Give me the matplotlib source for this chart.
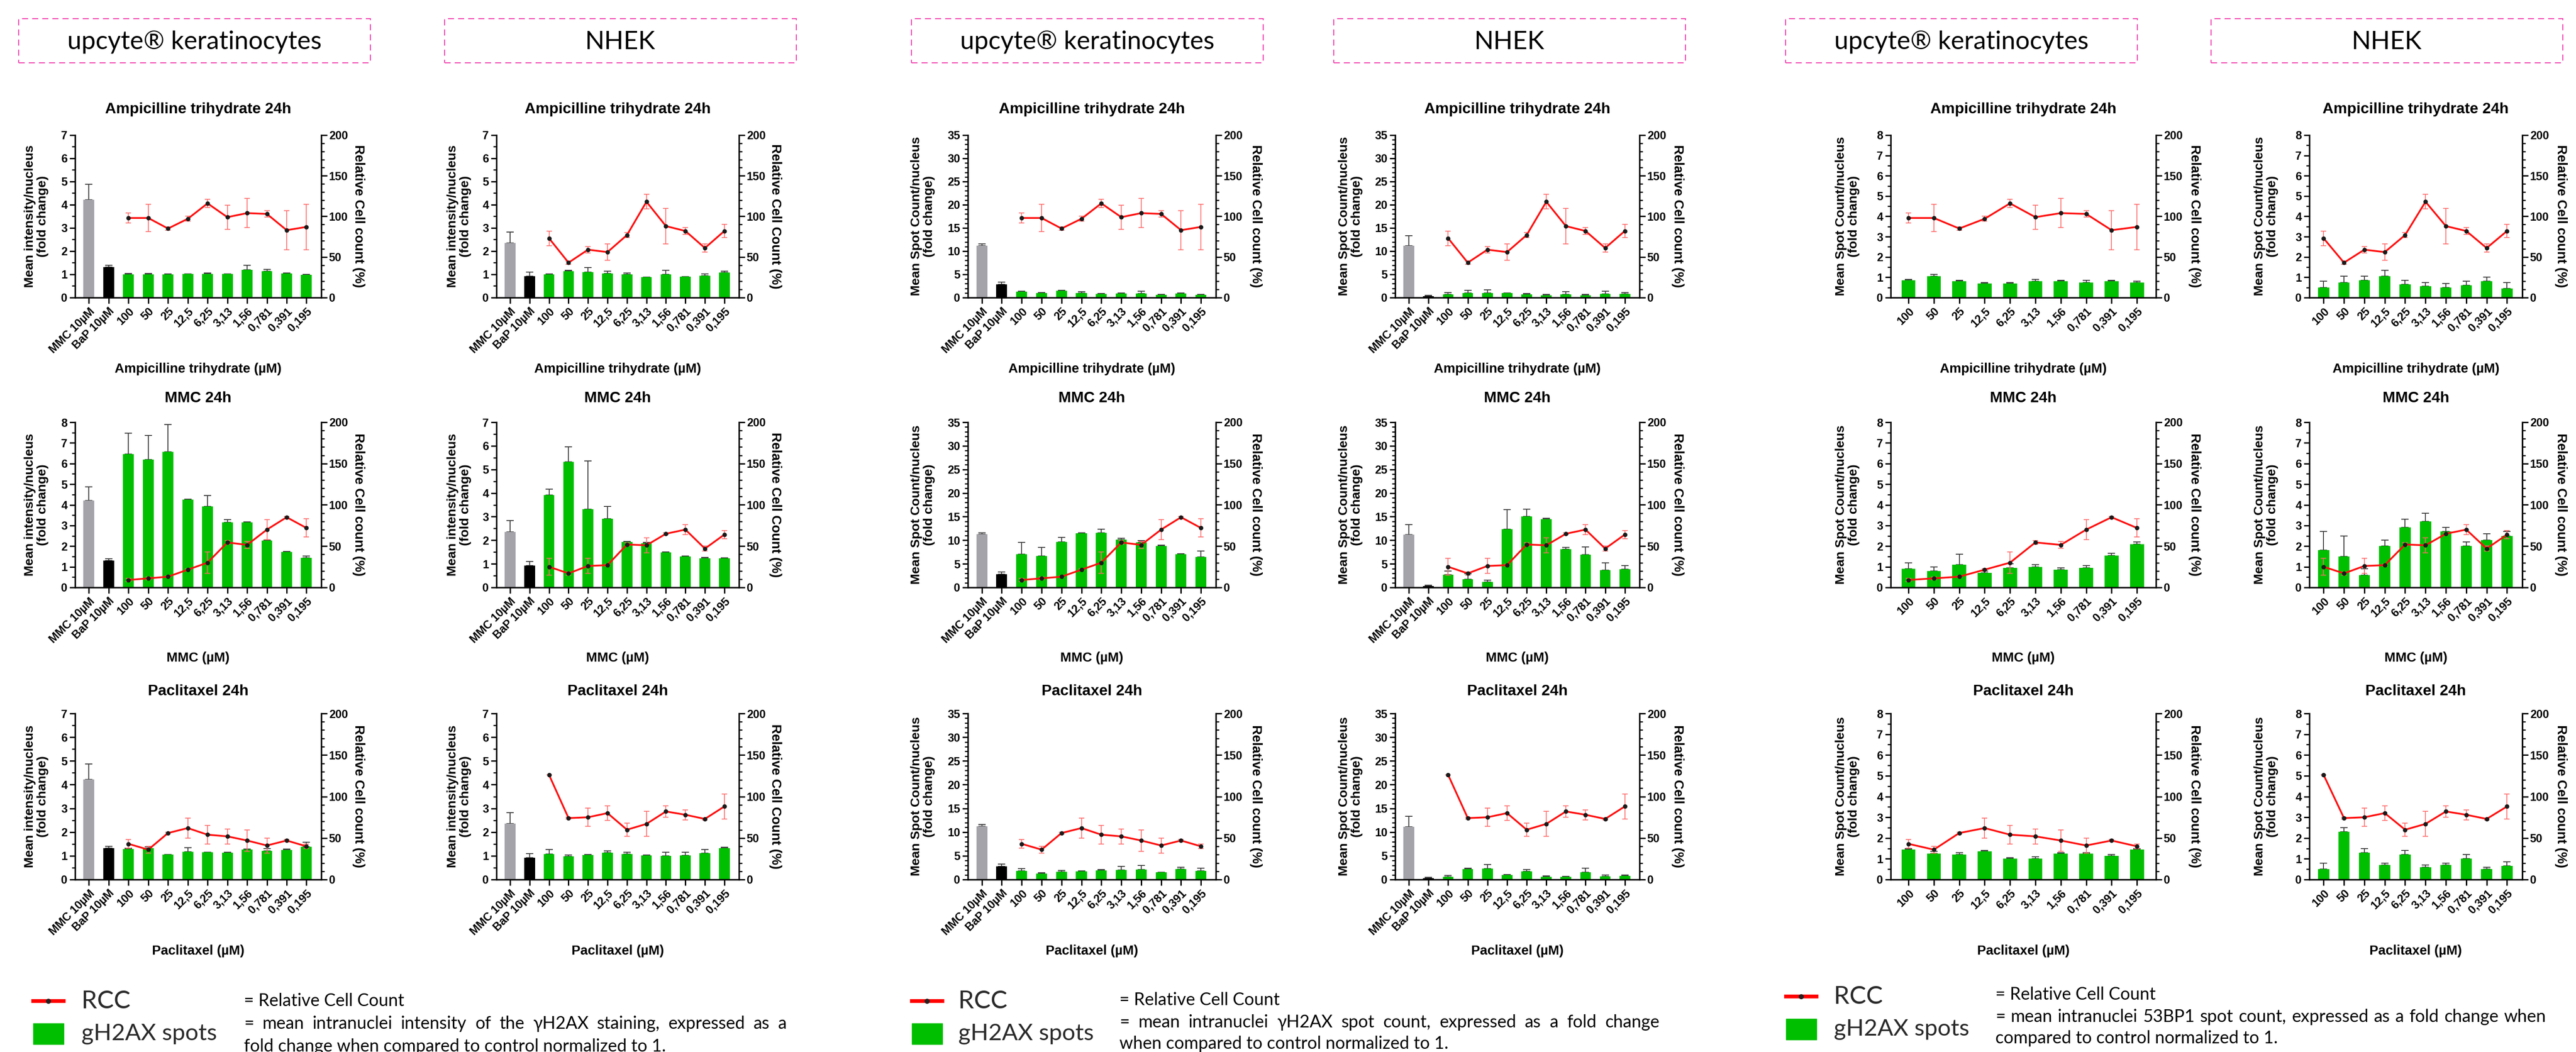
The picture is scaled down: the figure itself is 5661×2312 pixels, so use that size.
import matplotlib
matplotlib.use("Agg")
import matplotlib.pyplot as plt
from matplotlib.lines import Line2D
from matplotlib.patches import Rectangle
from matplotlib.ticker import MultipleLocator
import numpy as np

W, H = 5661, 2312
DPI = 100

plt.rcParams['font.family'] = ['Liberation Sans', 'DejaVu Sans']

controls = ["MMC 10µM", "BaP 10µM"]
doses = ["100", "50", "25", "12,5", "6,25", "3,13", "1,56", "0,781", "0,391", "0,195"]

# relative cell count (%), shared by the three readouts of a cell type
rcc_up_amp = [98, 98, 85, 97, 116, 99, 104, 103, 83, 87]
rcc_up_amp_err = [6, 17, 2, 3, 5, 15, 18, 4, 24, 28]
rcc_up_mmc = [9, 11, 13, 21.5, 30, 54.5, 51.5, 70, 85, 72]
rcc_up_mmc_err = [2, 1.5, 1, 1, 13, 2, 4, 12, 1, 11]
rcc_up_pac = [43, 36, 56, 62, 54, 52, 47, 41, 47, 40]
rcc_up_pac_err = [5, 4, 1, 12, 11, 9, 13, 9, 1, 3]
rcc_nh_amp = [73, 43, 59, 56, 77, 118, 88, 82, 61, 82]
rcc_nh_amp_err = [9, 2, 4, 10, 3, 9, 22, 4, 5, 8]
rcc_nh_mmc = [25, 17, 26, 27, 52, 51, 65, 70, 47, 64]
rcc_nh_mmc_err = [10, 2, 9, 1, 2, 9, 1, 6, 3, 5]
rcc_nh_pac = [126, 74, 75, 80, 60, 67, 82, 78, 73, 88]
rcc_nh_pac_err = [0, 1, 11, 9, 8, 15, 7, 6, 1, 15]

# gH2AX intensity, upcyte (controls + doses)
int_up_amp = [4.22, 1.32, 1.00, 1.00, 1.00, 1.02, 1.01, 1.01, 1.19, 1.14, 1.03, 0.99]
int_up_amp_err = [0.66, 0.08, 0.04, 0.03, 0.01, 0.0, 0.04, 0.0, 0.2, 0.07, 0.02, 0.01]
int_up_mmc = [4.2, 1.3, 6.45, 6.2, 6.57, 4.25, 3.93, 3.15, 3.15, 2.27, 1.73, 1.43]
int_up_mmc_err = [0.68, 0.08, 1.03, 1.16, 1.33, 0.03, 0.52, 0.13, 0.03, 0.02, 0.02, 0.1]
int_up_pac = [4.22, 1.33, 1.29, 1.32, 1.05, 1.17, 1.15, 1.14, 1.27, 1.2, 1.24, 1.38]
int_up_pac_err = [0.66, 0.07, 0.03, 0.06, 0.01, 0.17, 0.01, 0.01, 0.01, 0.1, 0.04, 0.2]
# gH2AX intensity, NHEK
int_nh_amp = [2.35, 0.92, 1.0, 1.13, 1.1, 1.03, 1.0, 0.88, 1.0, 0.9, 0.95, 1.07]
int_nh_amp_err = [0.47, 0.18, 0.01, 0.04, 0.2, 0.11, 0.05, 0.0, 0.17, 0.01, 0.06, 0.06]
int_nh_mmc = [2.35, 0.93, 3.92, 5.33, 3.32, 2.92, 1.93, 1.88, 1.49, 1.32, 1.24, 1.24]
int_nh_mmc_err = [0.48, 0.17, 0.25, 0.62, 2.05, 0.51, 0.02, 0.02, 0.02, 0.02, 0.04, 0.02]
int_nh_pac = [2.35, 0.92, 1.08, 0.97, 1.03, 1.13, 1.07, 1.02, 1.0, 1.01, 1.11, 1.32]
int_nh_pac_err = [0.46, 0.17, 0.19, 0.07, 0.03, 0.07, 0.08, 0.02, 0.16, 0.15, 0.15, 0.04]
# gH2AX spot count, upcyte
spot_up_amp = [11.2, 2.8, 1.3, 1.0, 1.5, 1.0, 0.8, 0.9, 0.85, 0.55, 0.85, 0.55]
spot_up_amp_err = [0.4, 0.5, 0.05, 0.1, 0.05, 0.3, 0.05, 0.05, 0.5, 0.15, 0.1, 0.1]
spot_up_mmc = [11.3, 2.8, 7.0, 6.7, 9.6, 11.5, 11.6, 10.1, 9.5, 8.8, 7.0, 6.5]
spot_up_mmc_err = [0.3, 0.5, 2.5, 1.8, 1.0, 0.1, 0.7, 0.3, 0.4, 0.2, 0.1, 1.2]
spot_up_pac = [11.2, 2.8, 1.8, 1.2, 1.6, 1.75, 1.9, 2.05, 2.15, 1.5, 2.25, 1.85]
spot_up_pac_err = [0.4, 0.5, 0.5, 0.2, 0.3, 0.05, 0.2, 0.75, 0.85, 0.05, 0.35, 0.55]
# gH2AX spot count, NHEK
spot_nh_amp = [11.2, 0.3, 0.7, 1.0, 1.0, 0.95, 0.7, 0.5, 0.7, 0.5, 0.75, 0.75]
spot_nh_amp_err = [2.1, 0.2, 0.4, 0.6, 0.7, 0.05, 0.15, 0.2, 0.6, 0.2, 0.65, 0.35]
spot_nh_mmc = [11.2, 0.3, 2.7, 1.7, 1.2, 12.3, 15.0, 14.5, 8.1, 6.9, 3.7, 3.9]
spot_nh_mmc_err = [2.1, 0.2, 0.8, 1.2, 0.3, 4.2, 1.6, 0.2, 0.4, 1.7, 1.5, 0.7]
spot_nh_pac = [11.1, 0.3, 0.55, 2.2, 2.3, 1.0, 1.7, 0.6, 0.6, 1.5, 0.7, 0.8]
spot_nh_pac_err = [2.2, 0.2, 0.3, 0.2, 0.9, 0.02, 0.4, 0.15, 0.05, 0.9, 0.25, 0.15]
# 53BP1 spot count (doses only)
bp_up_amp = [0.85, 1.05, 0.8, 0.7, 0.7, 0.8, 0.8, 0.75, 0.8, 0.75]
bp_up_amp_err = [0.05, 0.1, 0.05, 0.05, 0.05, 0.1, 0.05, 0.1, 0.05, 0.05]
bp_up_mmc = [0.9, 0.8, 1.1, 0.7, 0.95, 1.0, 0.85, 0.95, 1.55, 2.1]
bp_up_mmc_err = [0.3, 0.2, 0.5, 0.1, 0.2, 0.1, 0.1, 0.1, 0.1, 0.1]
bp_up_pac = [1.45, 1.25, 1.2, 1.35, 1.0, 1.0, 1.25, 1.25, 1.15, 1.45]
bp_up_pac_err = [0.05, 0.1, 0.1, 0.05, 0.05, 0.1, 0.05, 0.05, 0.05, 0.05]
bp_nh_amp = [0.5, 0.75, 0.85, 1.05, 0.65, 0.55, 0.5, 0.6, 0.8, 0.45]
bp_nh_amp_err = [0.3, 0.3, 0.2, 0.3, 0.2, 0.2, 0.2, 0.2, 0.2, 0.3]
bp_nh_mmc = [1.8, 1.5, 0.6, 2.0, 2.9, 3.2, 2.7, 2.0, 2.3, 2.5]
bp_nh_mmc_err = [0.9, 1.0, 0.3, 0.3, 0.4, 0.4, 0.2, 0.2, 0.3, 0.2]
bp_nh_pac = [0.5, 2.3, 1.3, 0.7, 1.2, 0.6, 0.7, 1.0, 0.5, 0.65]
bp_nh_pac_err = [0.3, 0.2, 0.2, 0.1, 0.2, 0.1, 0.1, 0.2, 0.1, 0.2]

titles = ["Ampicilline trihydrate 24h", "MMC 24h", "Paclitaxel 24h"]
xlabels = ["Ampicilline trihydrate (µM)", "MMC (µM)", "Paclitaxel (µM)"]
headers = ["upcyte® keratinocytes", "NHEK"] * 3

# layout in pixels
col_x = [(165, 706), (1091, 1624), (2127, 2672), (3066, 3603), (4155, 4738), (5075, 5543)]
ylab_off = [85, 82, 99, 98, 95, 95]
rlab_off = [82, 80, 88, 84, 85, 85]
row_y = [(297, 654), (928, 1291), (1568, 1933)]
title_y = [240, 875, 1520]
xlab_y = [811, 1446, 2090]
boxes = [(41, 814), (977, 1750), (2003, 2776), (2931, 3704), (3924, 4697), (4859, 5632)]

fig = plt.figure(figsize=(W / DPI, H / DPI), dpi=DPI)
fig.patch.set_facecolor('white')


def fx(x):
    return x / W


def fy(y):
    return 1 - y / H


def panel(col, row, vals, errs, rcc, rcc_err, ymax, ymaj, ymin_, ylab, rlab, with_ctrl):
    x0, x1 = col_x[col]
    y0, y1 = row_y[row]
    ax = fig.add_axes([fx(x0), fy(y1), (x1 - x0) / W, (y1 - y0) / H])
    labels = controls + doses if with_ctrl else doses
    n = len(labels)
    x = np.arange(n)
    colors = (['#a3a3a9', '#000000'] if with_ctrl else []) + ['#00bf00'] * 10
    ax.errorbar(x, vals, yerr=[np.zeros(n), errs], fmt='none', ecolor='#3a3a3a',
                elinewidth=1.4, capsize=6, capthick=1.4, zorder=1)
    ax.bar(x, vals, width=0.55, color=colors, zorder=2)
    ax.set_xlim(-0.7, n - 1 + 0.75)
    ax.set_ylim(0, ymax)
    ax.yaxis.set_major_locator(MultipleLocator(ymaj))
    ax.yaxis.set_minor_locator(MultipleLocator(ymin_))
    ax.set_xticks(x)
    ax.set_xticklabels(labels, rotation=45, ha='right', rotation_mode='anchor',
                       fontsize=18, fontweight='bold')
    for t in ax.get_yticklabels():
        t.set_fontweight('bold')
    ax.tick_params(axis='y', direction='out', length=9, width=2.2, labelsize=18, pad=3)
    ax.tick_params(axis='y', which='minor', direction='out', length=5, width=1.8)
    ax.tick_params(axis='x', direction='out', length=9, width=2.2, pad=4)
    for s in ['top', 'right']:
        ax.spines[s].set_visible(False)
    for s in ['left', 'bottom']:
        ax.spines[s].set_linewidth(2.4)

    ax2 = ax.twinx()
    xr = x[-10:]
    ax2.errorbar(xr, rcc, yerr=rcc_err, fmt='none', ecolor='#ff6a6a', elinewidth=1.3,
                 capsize=4, capthick=1.3, zorder=3)
    ax2.plot(xr, rcc, color='#ff1010', lw=2.8, marker='o', ms=6,
             mfc='#1a1a1a', mec='#1a1a1a', zorder=4)
    ax2.set_ylim(0, 200)
    ax2.yaxis.set_major_locator(MultipleLocator(50))
    ax2.yaxis.set_minor_locator(MultipleLocator(10))
    for t in ax2.get_yticklabels():
        t.set_fontweight('bold')
    ax2.tick_params(axis='y', direction='out', length=9, width=2.2, labelsize=18, pad=3)
    ax2.tick_params(axis='y', which='minor', direction='out', length=5, width=1.8)
    for s in ['top', 'left', 'bottom']:
        ax2.spines[s].set_visible(False)
    ax2.spines['right'].set_linewidth(2.4)

    cx = (x0 + x1) / 2
    cy = (y0 + y1) / 2
    fig.text(fx(cx), fy(title_y[row]), titles[row], ha='center', va='center',
             fontsize=24, fontweight='bold')
    fig.text(fx(cx), fy(xlab_y[row]), xlabels[row], ha='center', va='center',
             fontsize=21, fontweight='bold')
    fig.text(fx(x0 - ylab_off[col]), fy(cy), ylab, ha='center', va='center',
             rotation=90, fontsize=20.5, fontweight='bold', linespacing=1.1)
    fig.text(fx(x1 + rlab_off[col]), fy(cy), rlab, ha='center', va='center',
             rotation=270, fontsize=21, fontweight='bold')


rcc_sets = {
    'up': [(rcc_up_amp, rcc_up_amp_err), (rcc_up_mmc, rcc_up_mmc_err), (rcc_up_pac, rcc_up_pac_err)],
    'nh': [(rcc_nh_amp, rcc_nh_amp_err), (rcc_nh_mmc, rcc_nh_mmc_err), (rcc_nh_pac, rcc_nh_pac_err)],
}
columns = [
    ('up', [(int_up_amp, int_up_amp_err, 7), (int_up_mmc, int_up_mmc_err, 8), (int_up_pac, int_up_pac_err, 7)],
     "Mean intensity/nucleus\n(fold change)", "Relative Cell count (%)", True, 1, 0.5),
    ('nh', [(int_nh_amp, int_nh_amp_err, 7), (int_nh_mmc, int_nh_mmc_err, 7), (int_nh_pac, int_nh_pac_err, 7)],
     "Mean intensity/nucleus\n(fold change)", "Relative Cell Count (%)", True, 1, 0.5),
    ('up', [(spot_up_amp, spot_up_amp_err, 35), (spot_up_mmc, spot_up_mmc_err, 35), (spot_up_pac, spot_up_pac_err, 35)],
     "Mean Spot Count/nucleus\n(fold change)", "Relative Cell count (%)", True, 5, 1),
    ('nh', [(spot_nh_amp, spot_nh_amp_err, 35), (spot_nh_mmc, spot_nh_mmc_err, 35), (spot_nh_pac, spot_nh_pac_err, 35)],
     "Mean Spot Count/nucleus\n(fold change)", "Relative Cell count (%)", True, 5, 1),
    ('up', [(bp_up_amp, bp_up_amp_err, 8), (bp_up_mmc, bp_up_mmc_err, 8), (bp_up_pac, bp_up_pac_err, 8)],
     "Mean Spot Count/nucleus\n(fold change)", "Relative Cell count (%)", False, 1, 0.5),
    ('nh', [(bp_nh_amp, bp_nh_amp_err, 8), (bp_nh_mmc, bp_nh_mmc_err, 8), (bp_nh_pac, bp_nh_pac_err, 8)],
     "Mean Spot Count/nucleus\n(fold change)", "Relative Cell count (%)", False, 1, 0.5),
]

for ci, (cell, rows, ylab, rlab, ctrl, ymaj, ymin_) in enumerate(columns):
    for ri, (vals, errs, ymax) in enumerate(rows):
        rcc, rcc_err = rcc_sets[cell][ri]
        panel(ci, ri, vals, errs, rcc, rcc_err, ymax, ymaj, ymin_, ylab, rlab, ctrl)

renderer = fig.canvas.get_renderer()


def fit_text(s, x, y, width, family, weight='normal', color='black', ha='left'):
    t = fig.text(fx(x), fy(y), s, fontsize=20, family=family, fontweight=weight,
                 color=color, ha=ha, va='center')
    w = t.get_window_extent(renderer).width
    t.set_fontsize(20 * width / w)
    return t


def justified(s, x0, x1, y, size, family='Lato'):
    words = s.split(' ')
    arts = [fig.text(0, fy(y), w, fontsize=size, family=family, va='center') for w in words]
    widths = [a.get_window_extent(renderer).width for a in arts]
    gap = (x1 - x0 - sum(widths)) / (len(words) - 1)
    xx = x0
    for a, w in zip(arts, widths):
        a.set_x(fx(xx))
        xx += w + gap


# header boxes
hsize = None
for (bx0, bx1), txt in zip(boxes, headers):
    fig.add_artist(Rectangle((fx(bx0), fy(138)), (bx1 - bx0) / W, 97 / H, transform=fig.transFigure,
                             fill=False, edgecolor='#f23fae', lw=1.6, linestyle=(0, (6, 4))))
    if hsize is None:
        t = fit_text(txt, (bx0 + bx1) / 2, 92, 560, 'Lato', ha='center')
        hsize = t.get_fontsize()
    else:
        fig.text(fx((bx0 + bx1) / 2), fy(92), txt, ha='center', va='center', fontsize=hsize, family='Lato')

# legends
legend_groups = [
    (73, 179, 536, 2200, 2272, [2200, 2250, 2300], 1729,
     "= mean intranuclei intensity of the γH2AX staining, expressed as a",
     "fold change when compared to control normalized to 1."),
    (2004, 2106, 2460, 2200, 2272, [2198, 2247, 2294], 3647,
     "= mean intranuclei γH2AX spot count, expressed as a fold change",
     "when compared to control normalized to 1."),
    (3925, 4030, 4385, 2190, 2262, [2186, 2235, 2282], 5595,
     "= mean intranuclei 53BP1 spot count, expressed as a fold change when",
     "compared to control normalized to 1."),
]
for lx, tx, ex, y_rcc, y_g, ys, ex1, line2, line3 in legend_groups:
    fig.add_artist(Line2D([fx(lx), fx(lx + 67)], [fy(y_rcc), fy(y_rcc)], transform=fig.transFigure,
                          color='#ff0000', lw=6))
    fig.add_artist(Line2D([fx(lx + 33)], [fy(y_rcc)], transform=fig.transFigure,
                          marker='o', ms=7, color='#222222'))
    fig.add_artist(Rectangle((fx(lx), fy(y_g + 23)), 67 / W, 46 / H, transform=fig.transFigure,
                             color='#00bf00'))
    fit_text("RCC", tx, y_rcc, 108, 'Lato', color='#2a2a2a')
    fit_text("gH2AX spots", tx, y_g, 297, 'Lato', color='#2a2a2a')
    t = fit_text("= Relative Cell Count", ex, ys[0], 354, 'Lato')
    size = t.get_fontsize()
    justified(line2, ex, ex1, ys[1], size)
    fig.text(fx(ex), fy(ys[2]), line3, fontsize=size, family='Lato', va='center')

fig.savefig("out.png", dpi=DPI)
